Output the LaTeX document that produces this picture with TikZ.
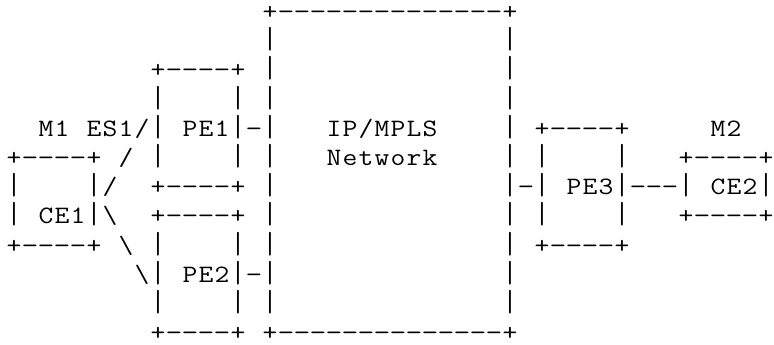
\documentclass[tikz,border=0pt]{standalone}
\usepackage{graphicx}
\newcommand\ascell[1]{\makebox[16pt]{%
  \ifx#1|\scalebox{1.15}[1.22]{|}%
  \else\ifx#1-\scalebox{1.3}[1]{-}%
  \else\scalebox{1.15}[1]{#1}\fi\fi}}
\def\asrow#1{\asrowloop#1\relax}
\def\asrowloop#1{\ifx#1\relax\else\ascell{#1}\expandafter\asrowloop\fi}
\begin{document}
\begin{tikzpicture}[x=1pt,y=-1pt,
  asciirow/.style={anchor=base west,inner sep=0pt,outer sep=0pt,
    font=\ttfamily\fontsize{25}{29.2}\selectfont}]
\useasboundingbox[fill=white] (0,0) rectangle (774,345);
\def\bl#1{19.5+29.2*#1}
\node[asciirow] (r0) at (6,{\bl{0}}) {\asrow{~~~~~~~~~~~~~~~~+--------------+}};
\node[asciirow] (r1) at (6,{\bl{1}}) {\asrow{~~~~~~~~~~~~~~~~|~~~~~~~~~~~~~~|}};
\node[asciirow] (r2) at (6,{\bl{2}}) {\asrow{~~~~~~~~~+----+~|~~~~~~~~~~~~~~|}};
\node[asciirow] (r3) at (6,{\bl{3}}) {\asrow{~~~~~~~~~|~~~~|~|~~~~~~~~~~~~~~|}};
\node[asciirow] (r4) at (6,{\bl{4}}) {\asrow{~~M1~ES1/|~PE1|-|~~~IP/MPLS~~~~|~+----+~~~~~M2}};
\node[asciirow] (r5) at (6,{\bl{5}}) {\asrow{+----+~/~|~~~~|~|~~~Network~~~~|~|~~~~|~~~+----+}};
\node[asciirow] (r6) at (6,{\bl{6}}) {\asrow{|~~~~|/~~+----+~|~~~~~~~~~~~~~~|-|~PE3|---|~CE2|}};
\node[asciirow] (r7) at (6,{\bl{7}}) {\asrow{|~CE1|\textbackslash~~+----+~|~~~~~~~~~~~~~~|~|~~~~|~~~+----+}};
\node[asciirow] (r8) at (6,{\bl{8}}) {\asrow{+----+~\textbackslash~|~~~~|~|~~~~~~~~~~~~~~|~+----+}};
\node[asciirow] (r9) at (6,{\bl{9}}) {\asrow{~~~~~~~~\textbackslash|~PE2|-|~~~~~~~~~~~~~~|}};
\node[asciirow] (r10) at (6,{\bl{10}}) {\asrow{~~~~~~~~~|~~~~|~|~~~~~~~~~~~~~~|}};
\node[asciirow] (r11) at (6,{\bl{11}}) {\asrow{~~~~~~~~~+----+~+--------------+}};
\end{tikzpicture}
\end{document}
